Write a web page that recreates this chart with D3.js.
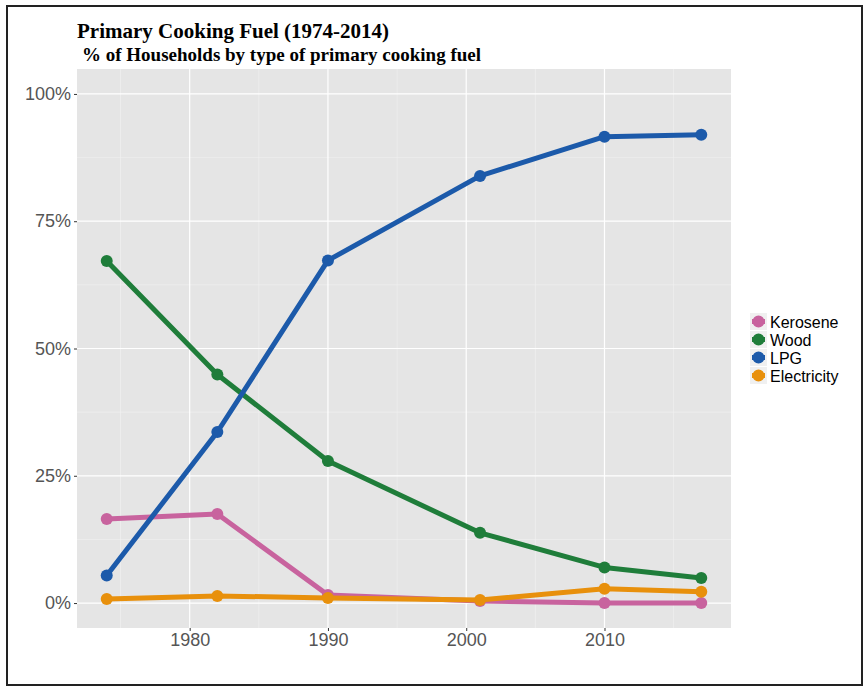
<!DOCTYPE html>
<html>
<head>
<meta charset="utf-8">
<script src="https://cdn.jsdelivr.net/npm/d3@7"></script>
<style>
  body { margin: 0; background: #fff; }
  svg { display: block; }
</style>
</head>
<body>
<svg id="chart" width="865" height="686"></svg>
<script>
// data
var years = [1974, 1982, 1990, 2001, 2010, 2017];
var fuels = ["Kerosene", "Wood", "LPG", "Electricity"];
var kerosene = [0.165, 0.175, 0.016, 0.004, 0.0, 0.0];
var wood = [0.672, 0.449, 0.279, 0.138, 0.070, 0.049];
var lpg = [0.054, 0.336, 0.673, 0.839, 0.916, 0.920];
var electricity = [0.008, 0.014, 0.010, 0.006, 0.028, 0.022];
var yTicks = [0, 0.25, 0.5, 0.75, 1];
var xTicks = [1980, 1990, 2000, 2010];

var colors = { Kerosene: "#c8639e", Wood: "#1f7d3a", LPG: "#1c5aaa", Electricity: "#e8900c" };
var series = [
	{ name: "Kerosene", values: kerosene },
	{ name: "Wood", values: wood },
	{ name: "LPG", values: lpg },
	{ name: "Electricity", values: electricity }
];

var svg = d3.select("#chart");

// outer frame
svg.append("rect")
	.attr("x", 7).attr("y", 6)
	.attr("width", 855).attr("height", 679)
	.attr("fill", "none")
	.attr("stroke", "#222")
	.attr("stroke-width", 2);

var panel = { left: 77, top: 69, right: 731, bottom: 628 };

var x = d3.scaleLinear()
	.domain([1974 - 2.15, 2017 + 2.15])
	.range([panel.left, panel.right]);

var y = d3.scaleLinear()
	.domain([-0.049, 1.049])
	.range([panel.bottom, panel.top]);

// panel background
svg.append("rect")
	.attr("x", panel.left).attr("y", panel.top)
	.attr("width", panel.right - panel.left)
	.attr("height", panel.bottom - panel.top)
	.attr("fill", "#e5e5e5");

var grid = svg.append("g");
// minor grid
[1975, 1985, 1995, 2005, 2015].forEach(function(v) {
	grid.append("line")
		.attr("x1", x(v)).attr("x2", x(v))
		.attr("y1", panel.top).attr("y2", panel.bottom)
		.attr("stroke", "#f2f2f2").attr("stroke-width", 0.6);
});
[0.125, 0.375, 0.625, 0.875].forEach(function(v) {
	grid.append("line")
		.attr("x1", panel.left).attr("x2", panel.right)
		.attr("y1", y(v)).attr("y2", y(v))
		.attr("stroke", "#f2f2f2").attr("stroke-width", 0.6);
});
// major grid
xTicks.forEach(function(v) {
	grid.append("line")
		.attr("x1", x(v)).attr("x2", x(v))
		.attr("y1", panel.top).attr("y2", panel.bottom)
		.attr("stroke", "#fff").attr("stroke-width", 1.2);
});
yTicks.forEach(function(v) {
	grid.append("line")
		.attr("x1", panel.left).attr("x2", panel.right)
		.attr("y1", y(v)).attr("y2", y(v))
		.attr("stroke", "#fff").attr("stroke-width", 1.2);
});

// axes
var yAxis = svg.append("g")
	.attr("transform", "translate(" + panel.left + ",0)")
	.call(d3.axisLeft(y).tickValues(yTicks).tickFormat(d3.format(".0%")).tickSize(3).tickPadding(3));
var xAxis = svg.append("g")
	.attr("transform", "translate(0," + panel.bottom + ")")
	.call(d3.axisBottom(x).tickValues(xTicks).tickFormat(d3.format("d")).tickSize(3).tickPadding(2));

[yAxis, xAxis].forEach(function(a) {
	a.select(".domain").remove();
	a.selectAll(".tick line").attr("stroke", "#333");
	a.selectAll(".tick text")
		.attr("fill", "#555")
		.style("font-family", "'Liberation Sans', Arial, sans-serif")
		.style("font-size", "18px");
});

// lines and points
var line = d3.line()
	.x(function(d, i) { return x(years[i]); })
	.y(function(d) { return y(d); });

series.forEach(function(s) {
	svg.append("path")
		.datum(s.values)
		.attr("d", line)
		.attr("fill", "none")
		.attr("stroke", colors[s.name])
		.attr("stroke-width", 5)
		.attr("stroke-linejoin", "round");
	svg.selectAll(null)
		.data(s.values)
		.enter()
		.append("circle")
		.attr("cx", function(d, i) { return x(years[i]); })
		.attr("cy", function(d) { return y(d); })
		.attr("r", 6)
		.attr("fill", colors[s.name]);
});

// legend
var legend = svg.append("g").attr("transform", "translate(750,313)");
fuels.forEach(function(f, i) {
	var g = legend.append("g").attr("transform", "translate(0," + (i * 18) + ")");
	g.append("rect")
		.attr("width", 17).attr("height", 17)
		.attr("fill", "#f0f0f0");
	g.append("line")
		.attr("x1", 2).attr("x2", 15)
		.attr("y1", 8.5).attr("y2", 8.5)
		.attr("stroke", colors[f]).attr("stroke-width", 5);
	g.append("circle")
		.attr("cx", 8.5).attr("cy", 8.5).attr("r", 6)
		.attr("fill", colors[f]);
	g.append("text")
		.attr("x", 20).attr("y", 14.5)
		.attr("fill", "#000")
		.style("font-family", "'Liberation Sans', Arial, sans-serif")
		.style("font-size", "16px")
		.text(f);
});

// titles
svg.append("text")
	.attr("x", 77).attr("y", 38)
	.style("font-family", "'Liberation Serif', 'Times New Roman', serif")
	.style("font-weight", "bold")
	.style("font-size", "21px")
	.text("Primary Cooking Fuel (1974-2014)");
svg.append("text")
	.attr("x", 82).attr("y", 61)
	.style("font-family", "'Liberation Serif', 'Times New Roman', serif")
	.style("font-weight", "bold")
	.style("font-size", "19px")
	.text("% of Households by type of primary cooking fuel");
</script>
</body>
</html>
